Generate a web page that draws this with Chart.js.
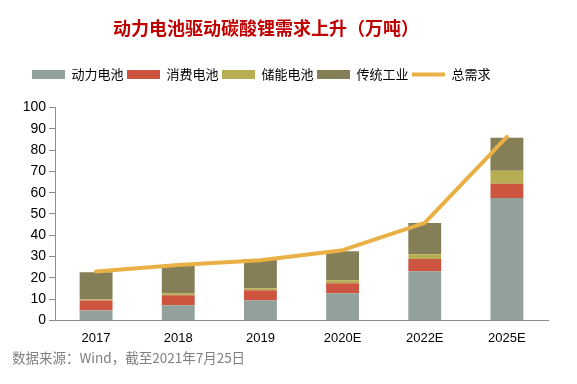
<!DOCTYPE html>
<html>
<head>
<meta charset="utf-8">
<script src="https://cdn.jsdelivr.net/npm/chart.js@4/dist/chart.umd.min.js"></script>
<style>
html,body{margin:0;padding:0;background:#fff;}
#wrap{position:relative;width:577px;height:384px;}
</style>
</head>
<body>
<div id="wrap"><canvas id="c" width="577" height="384"></canvas></div>
<script>
const categories = ['2017', '2018', '2019', '2020E', '2022E', '2025E'];
const powerBattery = [4.7, 7.1, 9.4, 12.7, 23.1, 57.5];
const consumerBattery = [4.7, 4.7, 4.8, 4.8, 5.7, 6.7];
const storageBattery = [0.5, 0.9, 0.9, 1.4, 2.3, 6.1];
const traditionalIndustry = [12.7, 12.8, 13.7, 13.6, 14.7, 15.5];
const totalDemand = [23.0, 26.0, 28.3, 33.0, 45.8, 86.2];
const yTicks = [0, 10, 20, 30, 40, 50, 60, 70, 80, 90, 100];

const titleText = '动力电池驱动碳酸锂需求上升（万吨）';
const sourceText = '数据来源：Wind，截至2021年7月25日';
const FONT = '"Liberation Sans", "Noto Sans CJK SC", Arial, sans-serif';
const CJK = '"Noto Sans CJK SC", "Liberation Sans", sans-serif';

const textPlugin = {
  id: 'texts',
  beforeInit(chart) {
    const lg = chart.legend;
    if (lg) {
      const orig = lg.fit;
      lg.fit = function () { orig.call(this); this.height += 16.5; };
    }
  },
  afterLayout(chart) {
    if (chart.legend) { chart.legend.left += 16.5; }
  },
  afterDraw(chart) {
    const ctx = chart.ctx;
    ctx.save();
    ctx.fillStyle = '#C00000';
    ctx.font = 'bold 18px ' + CJK;
    ctx.textAlign = 'center';
    ctx.textBaseline = 'middle';
    ctx.fillText(titleText, 266, 28);
    ctx.fillStyle = '#7F7F7F';
    ctx.font = '13.5px ' + CJK;
    ctx.textAlign = 'left';
    ctx.fillText(sourceText, 12, 358);
    ctx.restore();
  }
};

const barBase = { type: 'bar', stack: 's', borderWidth: 0, pointStyle: 'rect', order: 1,
  barPercentage: 0.8, categoryPercentage: 0.5 };

new Chart(document.getElementById('c'), {
  data: {
    labels: categories,
    datasets: [
      Object.assign({}, barBase, { label: '动力电池', data: powerBattery, backgroundColor: '#92A199' }),
      Object.assign({}, barBase, { label: '消费电池', data: consumerBattery, backgroundColor: '#CD5540' }),
      Object.assign({}, barBase, { label: '储能电池', data: storageBattery, backgroundColor: '#B7AD53' }),
      Object.assign({}, barBase, { label: '传统工业', data: traditionalIndustry, backgroundColor: '#857F57' }),
      { type: 'line', label: '总需求', data: totalDemand, borderColor: '#E9B045', backgroundColor: '#E9B045',
        borderWidth: 4, pointRadius: 0, pointHoverRadius: 0, pointStyle: 'line', tension: 0,
        borderCapStyle: 'round', borderJoinStyle: 'round', order: 0 }
    ]
  },
  options: {
    responsive: false,
    animation: false,
    devicePixelRatio: 1,
    layout: { padding: { top: 64.5, left: 12, right: 29, bottom: 28 } },
    plugins: {
      title: { display: false },
      tooltip: { enabled: false },
      legend: {
        display: true,
        position: 'top',
        align: 'start',
        labels: {
          usePointStyle: true,
          pointStyleWidth: 33,
          boxHeight: 9,
          padding: 3.5,
          color: '#000',
          font: { size: 13, family: CJK },
          sort: (a, b) => a.datasetIndex - b.datasetIndex
        }
      }
    },
    scales: {
      x: {
        stacked: true,
        grid: { display: false, drawTicks: false },
        border: { display: true, color: '#8C8C8C', width: 1 },
        ticks: { color: '#000', font: { size: 13, family: FONT }, padding: 10, maxRotation: 0 }
      },
      y: {
        stacked: true,
        min: 0, max: 100,
        afterBuildTicks(scale) { scale.ticks = yTicks.map(v => ({ value: v })); },
        afterFit(scale) { scale.width = 43; },
        grid: { drawOnChartArea: false, drawTicks: true, tickLength: 6, color: '#8C8C8C' },
        border: { display: true, color: '#8C8C8C', width: 1 },
        ticks: { color: '#000', font: { size: 14, family: FONT }, padding: 3, autoSkip: false }
      }
    }
  },
  plugins: [textPlugin]
});
</script>
</body>
</html>
